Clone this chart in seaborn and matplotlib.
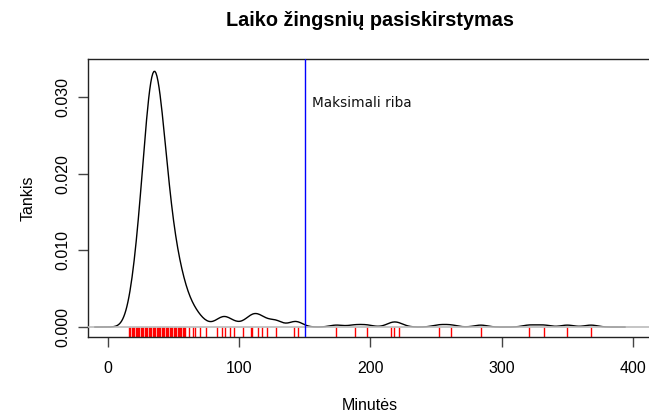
import numpy as np
import pandas as pd
import matplotlib
matplotlib.use("Agg")
import matplotlib.pyplot as plt
import seaborn as sns

# ---- data (minutes, with how many observations share each value) ----
main_minutes = [16, 17, 18, 19, 20, 21, 22, 23, 24, 25, 26, 27, 28, 29, 30, 31, 32, 33, 34,
                35, 36, 37, 38, 39, 40, 41, 42, 43, 44, 45, 46, 47, 48, 49, 50, 51, 52, 53,
                54, 55, 57, 58]
main_counts = [1, 1, 1, 2, 2, 3, 3, 4, 4, 5, 6, 6, 8, 9, 9, 11, 11, 13, 13,
               13, 13, 12, 11, 10, 10, 10, 9, 8, 7, 6, 6, 5, 5, 4, 4, 3, 3, 3,
               3, 3, 2, 2]
tail_minutes = [56, 59, 62, 65, 66, 70, 75, 83, 87, 89, 93, 96, 103, 109, 110, 114, 117, 121,
                128, 142, 145, 174, 188, 197, 216, 218, 222, 252, 261, 284, 321, 332, 350, 368]
tail_counts = [2, 3, 3, 2, 2, 2, 1, 1, 2, 2, 1, 1, 1, 2, 2, 2, 2, 1,
               3, 2, 1, 1, 1, 1, 1, 1, 1, 1, 1, 1, 1, 1, 1, 1]
limit_minutes = 150
limit_label = "Maksimali riba"
title = "Laiko žingsnių pasiskirstymas"
xlabel = "Minutės"
ylabel = "Tankis"
xticks = [0, 100, 200, 300, 400]
yticks = [0.000, 0.010, 0.020, 0.030]

df = pd.DataFrame({
    "minutes": main_minutes + tail_minutes,
    "count": main_counts + tail_counts,
})

sns.set_style("white")
plt.rcParams["font.family"] = ["Liberation Sans", "DejaVu Sans"]
for key in ["text.color", "axes.labelcolor", "xtick.color", "ytick.color"]:
    plt.rcParams[key] = "black"

fig = plt.figure(figsize=(6.49, 4.12), dpi=100)
ax = fig.add_axes([88 / 649, 75 / 412, (652 - 88) / 649, (337 - 59) / 412])

w = df["count"].to_numpy(float)
x = df["minutes"].to_numpy(float)
mean = np.average(x, weights=w)
wstd = np.sqrt(np.average((x - mean) ** 2, weights=w))
bandwidth = 5.0
sns.kdeplot(data=df, x="minutes", weights="count", bw_method=bandwidth / wstd,
            gridsize=512, color="black", lw=1.0, ax=ax, zorder=2)
sns.rugplot(data=df, x="minutes", height=0.036, color="red", lw=1.2, ax=ax,
            expand_margins=False, zorder=1)
ax.axhline(0, color="#bbbbbb", lw=1.2, zorder=3)
ax.axvline(limit_minutes, color="blue", lw=1.0, zorder=4)
ax.text(limit_minutes + 5.5, 0.0293, limit_label, fontsize=9.8, va="center", ha="left",
        family=["DejaVu Sans"], color="#111111")

ax.set_xlim(-15.2, 414.5)
ax.set_ylim(-0.0013, 0.0350)
ax.set_xticks(xticks)
ax.set_xticklabels([str(t) for t in xticks], fontsize=11.5)
ax.set_yticks(yticks)
ax.set_yticklabels([f"{t:.3f}" for t in yticks], fontsize=11.5, rotation=90, va="center")
ax.tick_params(axis="x", direction="out", length=7, width=1, color="#444444", pad=10, bottom=True)
ax.tick_params(axis="y", direction="out", length=7, width=1, color="#444444", pad=6, left=True)

for side in ["left", "top", "bottom"]:
    ax.spines[side].set_visible(True)
    ax.spines[side].set_color("#222222")
    ax.spines[side].set_linewidth(1.0)
ax.spines["right"].set_visible(False)

ax.set_xlabel(xlabel, fontsize=11.5, labelpad=16)
ax.set_ylabel(ylabel, fontsize=11.5, labelpad=14)
fig.text((88 + 652) / 2 / 649, 1 - 20 / 412, title, fontsize=14.3, fontweight="bold",
         ha="center", va="center")

fig.savefig("out.png", dpi=100)
